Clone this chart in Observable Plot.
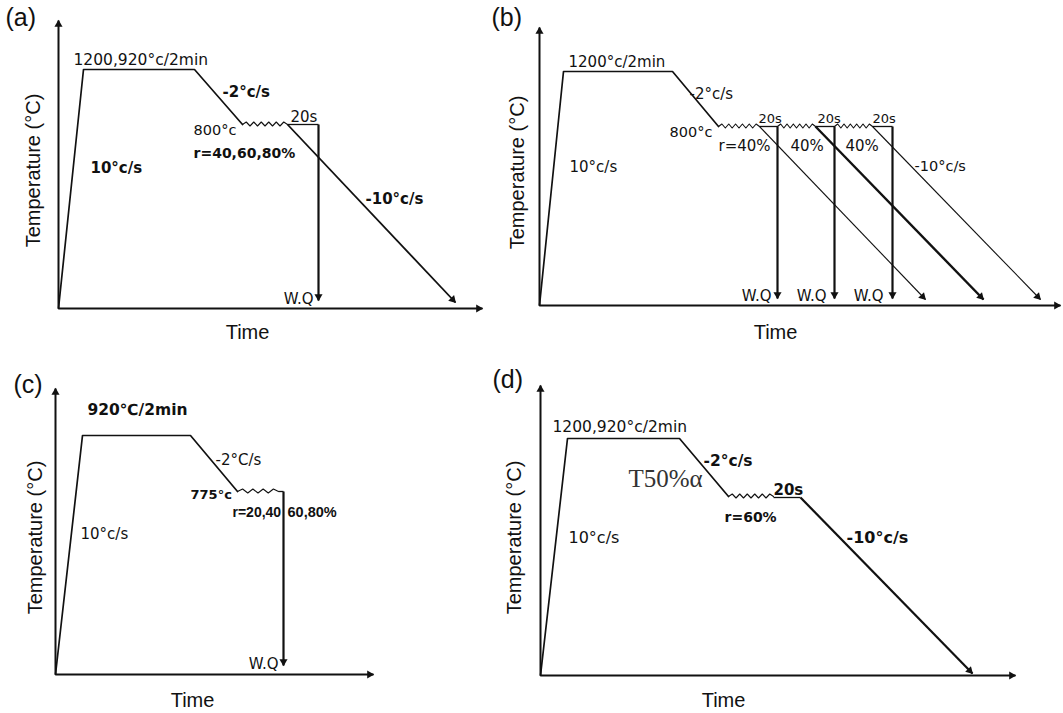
<!DOCTYPE html>
<html><head><meta charset="utf-8">
<script src="https://cdn.jsdelivr.net/npm/d3@7"></script>
<script src="https://cdn.jsdelivr.net/npm/@observablehq/plot@0.6"></script>
<style>
html,body{margin:0;padding:0;background:#fff;}
#fig{position:relative;width:1063px;height:713px;overflow:hidden;background:#fff;}
#fig svg{position:absolute;}
</style></head><body><div id="fig"></div>
<script>
// ---- schematic data (time units, temperature units; origin = axis corner) ----
// heating 10°C/s -> soak -> -2°C/s cooling to deformation temperature
const profA = [[0,0],[25,239],[136,239],[184,184]];
const rollA = [[184,229,184]];            // deformation (t start, t end, T)
const holdA = [[229,260,184]];            // 20 s hold
const wqA   = [[260,184,8]];              // water quench (t, from T, to T)
const coolA = [[229,184,397,6]];          // -10°C/s cooling

const profB = [[0,0],[24,234],[133,234],[179,179]];
const rollB = [[179,220,179],[238,276,179],[295,333,179]];
const holdB = [[220,238,179],[276,295,179],[333,353,179]];
const wqB   = [[238,179,7],[295,179,7],[353,179,7]];
const coolB = [[220,179,386,6],[276,179,444,6],[333,179,501,6]];

const profC = [[0,0],[27,239],[135,239],[182,183]];
const rollC = [[182,223,183]];
const holdC = [[223,228,183]];
const wqC   = [[228,183,9]];
const coolC = [];

const profD = [[0,0],[27,237],[139,237],[188,179]];
const rollD = [[188,233,179]];
const holdD = [[233,260,178]];
const wqD   = [];
const coolD = [[260,178,432,2]];

// annotations: [text, t, T]
const textA = [["(a)",-53,291],["1200,920°c/2min",15,248],["-2°c/s",164,216],["800°c",135,178],
  ["r=40,60,80%",135,155],["20s",232,191],["10°c/s",32,140],["-10°c/s",307,109],["W.Q",255,9],
  ["Temperature (°C)",-25,138],["Time",189,-24]];
const textB = [["(b)",-48,288],["1200°c/2min",29,243],["-2°c/s",150,211],["800°c",130,173],
  ["r=40%",179,159],["40%",251,159],["40%",306,159],["20s",219,187],["20s",278,187],["20s",333,187],
  ["10°c/s",30,138],["-10°c/s",375,139],["W.Q",232,9],["W.Q",287,9],["W.Q",344,9],
  ["Temperature (°C)",-22,133],["Time",236,-27]];
const textC = [["(c)",-42,290],["920℃/2min",32,264],["-2°C/s",160,214],["775°c",135,180],
  ["r=20,40",177,162],["60,80%",232,162],["10°c/s",25,140],["W.Q",223,10],
  ["Temperature (°C)",-20,137],["Time",137,-26]];
const textD = [["(d)",-48,296],["1200,920°c/2min",12,248],["-2°c/s",163,214],["T50%α",88,197],
  ["r=60%",184,158],["20s",233,185],["10°c/s",28,138],["-10°c/s",306,138],
  ["Temperature (°C)",-26,138],["Time",183,-25]];

// ---- styles (kept apart from data) ----
const styleA = ["tag","n15.5","b15","n14.5","b14","n15","b15","b15","e15","temp","time"];
const styleB = ["tag","n15","n15","n14.5","n15","n15","n15","n13","n13","n13","n15","n14.5","e15","e15","e15","temp","time"];
const styleC = ["tag","b15.5","n15","b13","B14","B14.5","n15","e15","temp","time"];
const styleD = ["tag","n15.5","b15.5","S25","b14","b15","n16","b16","temp","time"];

const panels = [
  {left:0,   top:0,   width:490, height:360, ox:58, oy:308, axTop:288, axEnd:424, prof:profA, roll:rollA, teeth:6, hold:holdA, wq:wqA, cool:coolA, coolW:[1.8], text:textA, style:styleA},
  {left:490, top:0,   width:573, height:360, ox:49, oy:305, axTop:278, axEnd:521, prof:profB, roll:rollB, teeth:6, hold:holdB, wq:wqB, cool:coolB, coolW:[1.1,2.4,1.1], text:textB, style:styleB},
  {left:0,   top:360, width:490, height:353, ox:55, oy:314, axTop:286, axEnd:318, prof:profC, roll:rollC, teeth:4, hold:holdC, wq:wqC, cool:coolC, coolW:[], text:textC, style:styleC},
  {left:490, top:360, width:573, height:353, ox:50, oy:315, axTop:290, axEnd:475, prof:profD, roll:rollD, teeth:6, hold:holdD, wq:wqD, cool:coolD, coolW:[2.2], text:textD, style:styleD}
];

const INK = "#111";
function zig(t0, t1, T, n, k) {
  const pts = [];
  for (let i = 0; i <= 2 * n; i++) {
    const t = t0 + (t1 - t0) * i / (2 * n);
    let y = T;
    if (i > 0 && i < 2 * n) y = T + (i % 2 ? 2.5 : -1.5);
    pts.push({t, T: y, k});
  }
  return pts;
}
function textStyle(s) {
  if (s === "tag") return {fontFamily:"Liberation Sans, Arial, sans-serif", fontSize:25, textAnchor:"start"};
  if (s === "time") return {fontFamily:"Liberation Sans, Arial, sans-serif", fontSize:20, textAnchor:"middle"};
  if (s === "temp") return {fontFamily:"Liberation Sans, Arial, sans-serif", fontSize:20, textAnchor:"middle", rotate:-90};
  const c = s[0], size = +s.slice(1);
  if (c === "n") return {fontFamily:"DejaVu Sans", fontSize:size, textAnchor:"start"};
  if (c === "b") return {fontFamily:"DejaVu Sans", fontSize:size, fontWeight:"bold", textAnchor:"start"};
  if (c === "e") return {fontFamily:"DejaVu Sans", fontSize:size, textAnchor:"end"};
  if (c === "L") return {fontFamily:"Liberation Sans, Arial, sans-serif", fontSize:size, textAnchor:"start"};
  if (c === "B") return {fontFamily:"Liberation Sans, Arial, sans-serif", fontSize:size, fontWeight:"bold", textAnchor:"start"};
  if (c === "S") return {fontFamily:"Liberation Serif, serif", fontSize:size, textAnchor:"start", fill:"#333"};
  return {};
}

const fig = document.getElementById("fig");
for (const p of panels) {
  const segs = [], heads = [];
  const arrow = (x1, y1, x2, y2, w, head = true) => {
    segs.push({x1, y1, x2, y2, w});
    if (head) {
      const len = Math.hypot(x2 - x1, y2 - y1), ux = (x2 - x1) / len, uy = (y2 - y1) / len;
      heads.push({x: x2 - ux * 4, y: y2 - uy * 4, rot: Math.atan2(x2 - x1, y2 - y1) * 180 / Math.PI});
    }
  };
  arrow(0, 0, 0, p.axTop, 2);
  arrow(0, 0, p.axEnd, 0, 2);
  p.hold.forEach(([t0, t1, T]) => arrow(t0, T, t1, T, 1.3, false));
  p.wq.forEach(([t, T0, T1]) => arrow(t, T0, t, T1, 2.2));
  p.cool.forEach(([t0, T0, t1, T1], i) => arrow(t0, T0, t1, T1, p.coolW[i]));
  const zz = p.roll.flatMap(([t0, t1, T], i) => zig(t0, t1, T, p.teeth, i));
  const prof = p.prof.map(([t, T]) => ({t, T}));
  const marks = [
    Plot.line(prof, {x:"t", y:"T", stroke:INK, strokeWidth:1.7}),
    Plot.line(zz, {x:"t", y:"T", z:"k", stroke:INK, strokeWidth:1.1}),
    Plot.link(segs, {x1:"x1", y1:"y1", x2:"x2", y2:"y2", stroke:INK, strokeWidth:"w"}),
    Plot.dot(heads, {x:"x", y:"y", symbol:"triangle", r:3, fill:INK, stroke:null, rotate:"rot"})
  ];
  p.text.forEach(([txt, t, T], i) => {
    marks.push(Plot.text([{txt, t, T}], {x:"t", y:"T", text:"txt", lineAnchor:"middle", fill:INK, ...textStyle(p.style[i])}));
  });
  const svg = Plot.plot({
    width: p.width, height: p.height, margin: 0,
    x: {type:"linear", domain:[0, 100], range:[p.ox, p.ox + 100], axis:null},
    y: {type:"linear", domain:[0, 100], range:[p.oy, p.oy - 100], axis:null},
    marks
  });
  svg.style.left = p.left + "px";
  svg.style.top = p.top + "px";
  svg.style.maxWidth = "none";
  fig.appendChild(svg);
}
</script></body></html>
